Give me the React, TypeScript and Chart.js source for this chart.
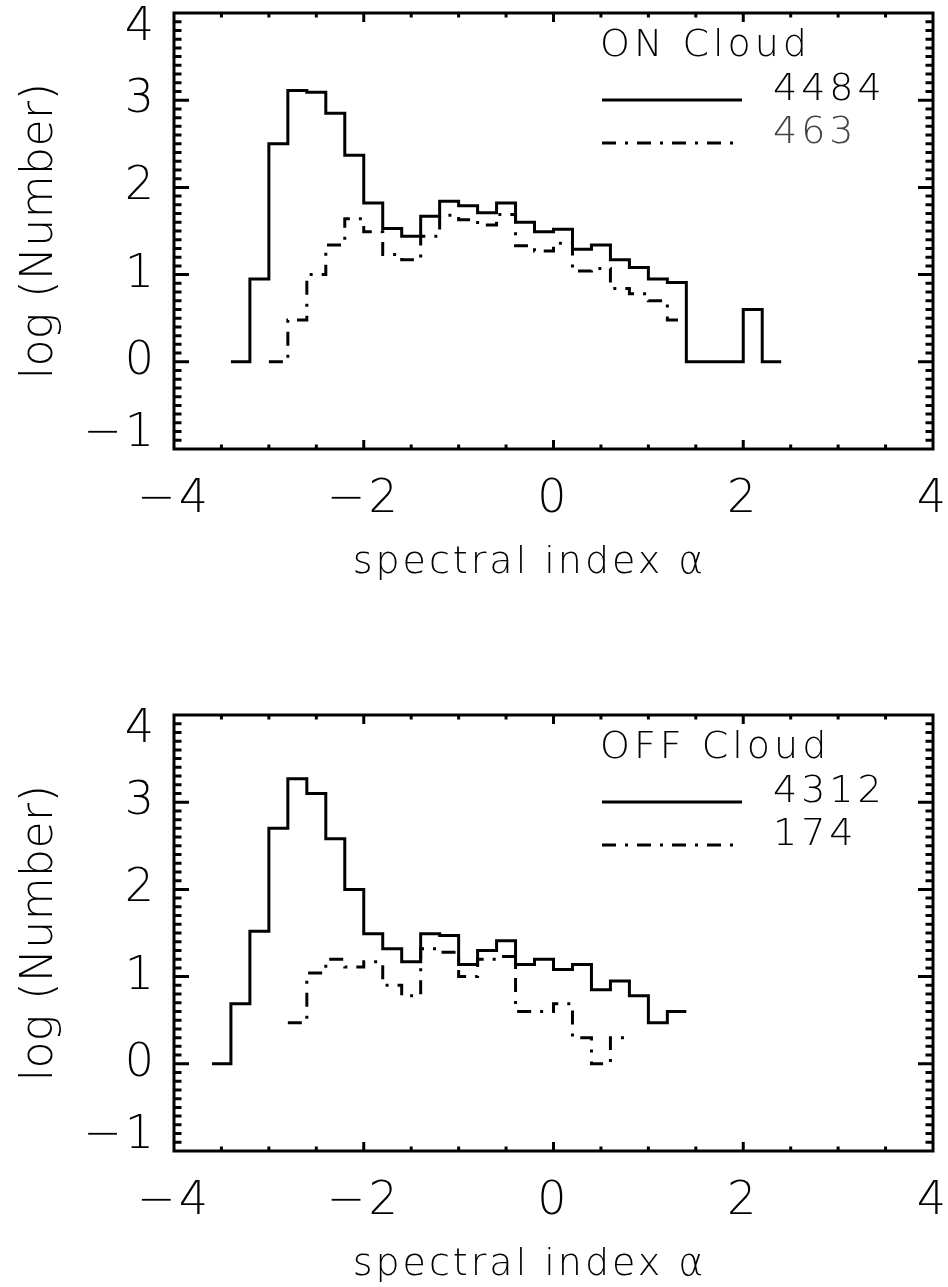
import React, { useEffect, useRef } from "react";
import { Chart, registerables } from "chart.js";

Chart.register(...registerables);

// ---------- axes ----------
const X_MIN = -4;
const X_MAX = 4;
const X_LABEL_STEP = 2;
const X_MINOR_STEP = 0.5;
const Y_MIN = -1;
const Y_MAX = 4;
const Y_LABEL_STEP = 1;
const Y_MINOR_STEP = 0.1;
const BIN_WIDTH = 0.2;

const X_TITLE = "spectral index α";
const Y_TITLE = "log (Number)";

// ---------- ON Cloud panel ----------
const ON_TITLE = "ON Cloud";
const ON_COUNTS = ["4484", "463"];
const ON_SOLID_FIRST_EDGE = -3.4;
const ON_SOLID = [
  0, 0.95, 2.5, 3.11, 3.09, 2.85, 2.37, 1.82, 1.53, 1.44, 1.67, 1.84, 1.79, 1.71,
  1.82, 1.6, 1.49, 1.52, 1.29, 1.34, 1.17, 1.08, 0.95, 0.91, 0, 0, 0, 0.6, 0,
];
const ON_DASH_FIRST_EDGE = -3.0;
const ON_DASH = [
  0, 0.48, 1.0, 1.34, 1.64, 1.49, 1.23, 1.17, 1.44, 1.68, 1.63, 1.57, 1.69, 1.33,
  1.27, 1.36, 1.04, 1.07, 0.84, 0.78, 0.7, 0.48,
];

// ---------- OFF Cloud panel ----------
const OFF_TITLE = "OFF Cloud";
const OFF_COUNTS = ["4312", "174"];
const OFF_SOLID_FIRST_EDGE = -3.6;
const OFF_SOLID = [
  0, 0.69, 1.52, 2.7, 3.27, 3.1, 2.58, 2.0, 1.49, 1.32, 1.17, 1.49, 1.47, 1.14,
  1.3, 1.41, 1.14, 1.2, 1.08, 1.14, 0.85, 0.95, 0.78, 0.47, 0.6,
];
const OFF_DASH_FIRST_EDGE = -2.8;
const OFF_DASH = [
  0.47, 1.04, 1.2, 1.11, 1.17, 0.9, 0.78, 1.32, 1.28, 1.0, 1.2, 1.23, 0.6, 0.6,
  0.69, 0.3, 0, 0.3,
];

// ---------- styles ----------
const INK = "#000";
const FONT_FAMILY = '"DejaVu Sans", "Liberation Sans", sans-serif';
const FONT_WEIGHT = "200";
const DASH_DOT = [14, 9, 3, 9];
const LINE_W = 3;

function histPoints(firstEdge: number, values: number[]) {
  const pts = values.map((v, i) => ({ x: +(firstEdge + i * BIN_WIDTH).toFixed(3), y: v }));
  pts.push({ x: +(firstEdge + values.length * BIN_WIDTH).toFixed(3), y: values[values.length - 1] });
  return pts;
}

function fmt(v: number) {
  const s = String(Math.round(v));
  return s.replace("-", "\u2212");
}

function setFont(ctx: any, size: number, spacing: number) {
  ctx.font = `${FONT_WEIGHT} ${size}px ${FONT_FAMILY}`;
  ctx.letterSpacing = `${spacing}px`;
}

const framePlugin = {
  id: "idlFrame",
  beforeDraw(chart: any) {
    chart.ctx.letterSpacing = "3px";
  },
  afterDatasetsDraw(chart: any) {
    const { ctx, chartArea: a, scales } = chart;
    const x = scales.x;
    const y = scales.y;
    ctx.save();
    ctx.letterSpacing = "0px";
    ctx.strokeStyle = INK;
    ctx.lineWidth = LINE_W;
    ctx.lineCap = "butt";
    ctx.setLineDash([]);
    ctx.strokeRect(a.left, a.top, a.right - a.left, a.bottom - a.top);
    ctx.beginPath();
    const nx = Math.round((X_MAX - X_MIN) / X_MINOR_STEP);
    for (let k = 1; k < nx; k++) {
      const v = X_MIN + k * X_MINOR_STEP;
      const px = x.getPixelForValue(v);
      const major = Math.abs(v / X_LABEL_STEP - Math.round(v / X_LABEL_STEP)) < 1e-6;
      const len = major ? 9 : 4.5;
      ctx.moveTo(px, a.bottom);
      ctx.lineTo(px, a.bottom - len);
      ctx.moveTo(px, a.top);
      ctx.lineTo(px, a.top + len);
    }
    const ny = Math.round((Y_MAX - Y_MIN) / Y_MINOR_STEP);
    for (let k = 1; k < ny; k++) {
      const v = Y_MIN + k * Y_MINOR_STEP;
      const py = y.getPixelForValue(v);
      const major = Math.abs(v / Y_LABEL_STEP - Math.round(v / Y_LABEL_STEP)) < 1e-6;
      const len = major ? 15 : 7.5;
      ctx.moveTo(a.left, py);
      ctx.lineTo(a.left + len, py);
      ctx.moveTo(a.right, py);
      ctx.lineTo(a.right - len, py);
    }
    ctx.stroke();
    ctx.restore();
  },
};

const textPlugin = {
  id: "idlText",
  afterDraw(chart: any, _args: any, opts: any) {
    const { ctx, chartArea: a } = chart;
    const ds = chart.data.datasets;
    ctx.save();
    ctx.fillStyle = INK;

    // y-axis title (rotated)
    setFont(ctx, 44, 0.5);
    ctx.save();
    ctx.translate(52, (a.top + a.bottom) / 2);
    ctx.rotate(-Math.PI / 2);
    ctx.textAlign = "center";
    ctx.textBaseline = "alphabetic";
    ctx.fillText(Y_TITLE, 0, 0);
    ctx.restore();

    // x-axis title
    setFont(ctx, 38, 3);
    ctx.textAlign = "center";
    ctx.textBaseline = "alphabetic";
    ctx.fillText(X_TITLE, (a.left + a.right) / 2 - 24, a.bottom + 124);

    // legend
    const lx = a.left + 426;
    setFont(ctx, 38, 4);
    ctx.textAlign = "left";
    ctx.fillText(opts.title, lx, a.top + 43);
    const rows = [a.top + 87, a.top + 130];
    rows.forEach((ry: number, i: number) => {
      const d = ds[i];
      ctx.save();
      ctx.strokeStyle = d.borderColor;
      ctx.lineWidth = d.borderWidth;
      ctx.setLineDash(d.borderDash || []);
      ctx.beginPath();
      ctx.moveTo(lx + 2, ry);
      ctx.lineTo(lx + 142, ry);
      ctx.stroke();
      ctx.restore();
      ctx.fillStyle = (opts.countColors && opts.countColors[i]) || INK;
      setFont(ctx, 38, 4);
      ctx.fillText(d.label, lx + 173, ry);
    });
    ctx.restore();
  },
};

function makeConfig(
  title: string,
  counts: string[],
  solidEdge: number,
  solid: number[],
  dashEdge: number,
  dash: number[],
  plotTop: number,
  plotBottom: number,
  canvasH: number,
  countColors: string[]
) {
  const common = {
    stepped: "before",
    borderColor: INK,
    borderWidth: LINE_W,
    pointRadius: 0,
    pointHoverRadius: 0,
    fill: false,
    borderJoinStyle: "miter",
    borderCapStyle: "butt",
  };
  return {
    type: "line",
    data: {
      datasets: [
        { ...common, label: counts[0], data: histPoints(solidEdge, solid), borderDash: [] },
        { ...common, label: counts[1], data: histPoints(dashEdge, dash), borderDash: DASH_DOT },
      ],
    },
    options: {
      responsive: false,
      animation: false,
      events: [],
      layout: { autoPadding: false, padding: { left: 0, right: 15, top: plotTop, bottom: 0 } },
      plugins: {
        legend: { display: false },
        tooltip: { enabled: false },
        idlText: { title, countColors },
      },
      scales: {
        x: {
          type: "linear",
          min: X_MIN,
          max: X_MAX,
          grid: { display: false, drawTicks: false },
          border: { display: false },
          ticks: {
            stepSize: X_LABEL_STEP,
            padding: 28,
            color: INK,
            maxRotation: 0,
            autoSkip: false,
            font: { family: FONT_FAMILY, size: 46, weight: FONT_WEIGHT, lineHeight: 1 },
            callback: (v: number) => fmt(v),
          },
          afterFit: (s: any) => {
            s.height = canvasH - plotBottom;
            s.paddingLeft = 0;
            s.paddingRight = 0;
            s.paddingTop = 0;
            s.paddingBottom = 0;
          },
        },
        y: {
          type: "linear",
          min: Y_MIN,
          max: Y_MAX,
          grid: { display: false, drawTicks: false },
          border: { display: false },
          ticks: {
            stepSize: Y_LABEL_STEP,
            padding: 17,
            color: INK,
            autoSkip: false,
            font: (c: any) => ({
              family: FONT_FAMILY,
              size: 46,
              weight: FONT_WEIGHT,
              lineHeight:
                c.tick && (c.tick.value === Y_MAX || c.tick.value === Y_MIN) ? "30px" : 1.2,
            }),
            callback: (v: number) =>
              v === Y_MAX ? ["", fmt(v)] : v === Y_MIN ? [fmt(v), ""] : fmt(v),
          },
          afterFit: (s: any) => {
            s.width = 174;
            s.paddingLeft = 0;
            s.paddingRight = 0;
            s.paddingTop = 0;
            s.paddingBottom = 0;
          },
        },
      },
    },
    plugins: [framePlugin, textPlugin],
  };
}

const PAGE_W = 948;
const TOP_H = 640;
const BOT_H = 647;

export default function App() {
  const topRef = useRef<HTMLCanvasElement | null>(null);
  const botRef = useRef<HTMLCanvasElement | null>(null);

  useEffect(() => {
    const charts: any[] = [];
    if (topRef.current) {
      charts.push(
        new Chart(
          topRef.current,
          makeConfig(ON_TITLE, ON_COUNTS, ON_SOLID_FIRST_EDGE, ON_SOLID, ON_DASH_FIRST_EDGE, ON_DASH, 13, 449, TOP_H, [INK, "#444"]) as any
        )
      );
    }
    if (botRef.current) {
      charts.push(
        new Chart(
          botRef.current,
          makeConfig(OFF_TITLE, OFF_COUNTS, OFF_SOLID_FIRST_EDGE, OFF_SOLID, OFF_DASH_FIRST_EDGE, OFF_DASH, 75, 511, BOT_H, [INK, INK]) as any
        )
      );
    }
    return () => charts.forEach((c) => c.destroy());
  }, []);

  return (
    <div style={{ position: "absolute", left: 0, top: 0, width: PAGE_W, height: TOP_H + BOT_H, background: "#fff" }}>
      <canvas ref={topRef} width={PAGE_W} height={TOP_H} style={{ position: "absolute", left: 0, top: 0, width: PAGE_W, height: TOP_H }} />
      <canvas ref={botRef} width={PAGE_W} height={BOT_H} style={{ position: "absolute", left: 0, top: TOP_H, width: PAGE_W, height: BOT_H }} />
    </div>
  );
}
